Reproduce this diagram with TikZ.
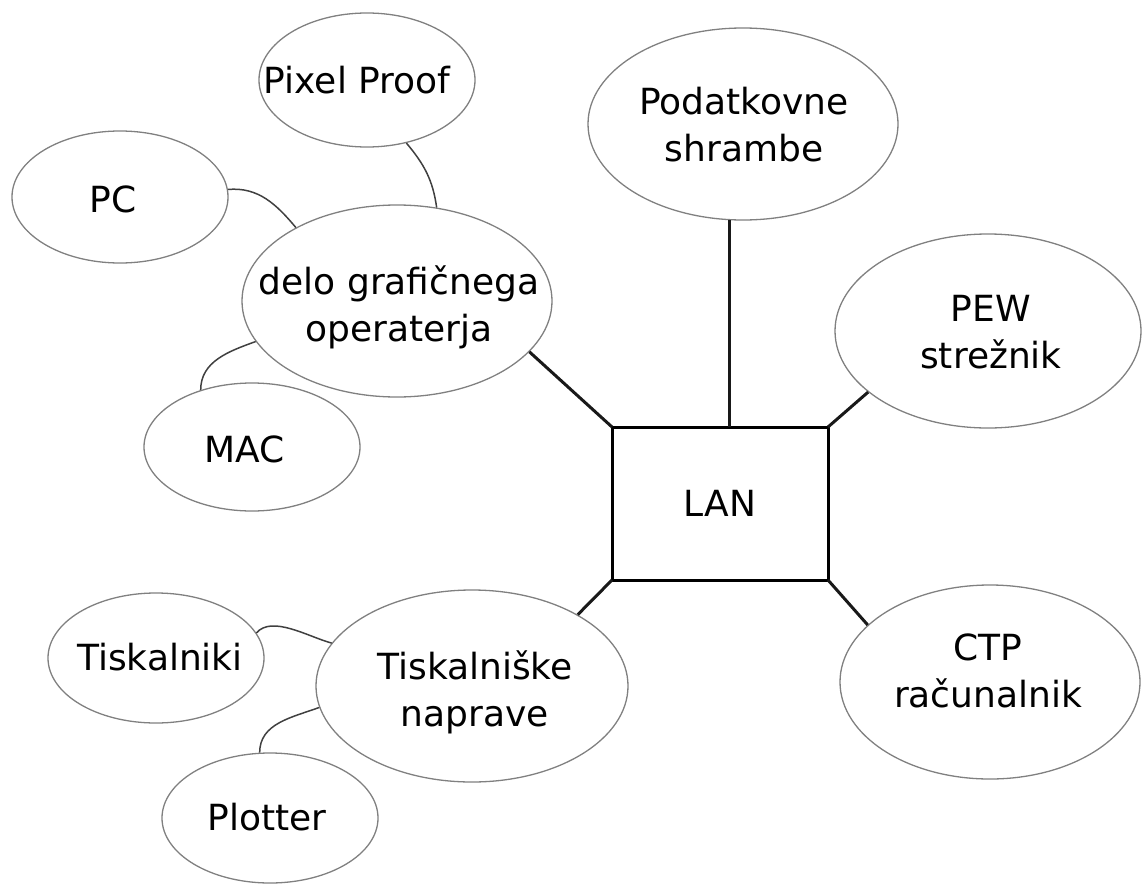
\documentclass[tikz,border=0pt]{standalone}
\usepackage{fontspec}
\setmainfont{DejaVu Sans}
\usetikzlibrary{shapes.geometric}

\begin{document}
\begin{tikzpicture}[x=1pt,y=-1pt,
  bubble/.style 2 args={ellipse,draw=black!50,line width=1.3pt,minimum width=#1pt,minimum height=#2pt,inner sep=0pt},
  txt/.style={align=center,inner sep=0pt,font=\fontsize{36}{47}\selectfont,text=black},
  lanline/.style={line width=3pt,black!90},
  link/.style={line width=1.5pt,black!75}]
\useasboundingbox (0,0) rectangle (1142,883);

% LAN in naprave okrog njega
\node[draw,line width=3pt,minimum width=216pt,minimum height=153pt,outer sep=0pt,txt] (lan) at (720,503.5) {LAN};
\node[bubble={216}{134}] (pixel) at (367,80) {};
\node[bubble={216}{132}] (pc) at (120,197) {};
\node[bubble={310}{192}] (delo) at (397,301) {};
\node[bubble={216}{128}] (mac) at (252,447) {};
\node[bubble={310}{192}] (podat) at (743,124) {};
\node[bubble={306}{194}] (pew) at (988,331) {};
\node[bubble={300}{194}] (ctp) at (990,682) {};
\node[bubble={312}{192}] (tisk) at (472,686) {};
\node[bubble={216}{130}] (tiskn) at (156,658) {};
\node[bubble={216}{130}] (plot) at (270,818) {};

\node[txt] (pixel-t) at (357,80) {Pixel Proof};
\node[txt] (pc-t) at (113,199) {PC};
\node[txt] (delo-t) at (399,307) {delo grafičnega\\operaterja};
\node[txt] (mac-t) at (245,449) {MAC};
\node[txt] (podat-t) at (744,125) {Podatkovne\\shrambe};
\node[txt] (pew-t) at (991,332) {PEW\\strežnik};
\node[txt] (ctp-t) at (988,671) {CTP\\računalnik};
\node[txt] (tisk-t) at (475,692) {Tiskalniške\\naprave};
\node[txt] (tiskn-t) at (160,657) {Tiskalniki};
\node[txt] (plot-t) at (267,817) {Plotter};

% povezave do LAN
\draw[lanline] (lan.north west) -- (delo.-21);
\draw[lanline] (podat.262) -- (podat.262 |- lan.north);
\draw[lanline] (lan.north east) -- (pew.207);
\draw[lanline] (lan.south east) -- (ctp.155);
\draw[lanline] (lan.south west) -- (tisk.34);

% tanke povezave
\draw[link] (pixel.-58) to[out=-50,in=98] (delo.67);
\draw[link] (pc.4) to[out=5,in=130] (delo.144);
\draw[link] (delo.196) to[out=200,in=90] (mac.132);
\draw[link] (tiskn.14) to[out=50,in=165,looseness=0.8] (tisk.163);
\draw[link] (tisk.188) to[out=200,in=90] (plot.99);
\end{tikzpicture}
\end{document}
